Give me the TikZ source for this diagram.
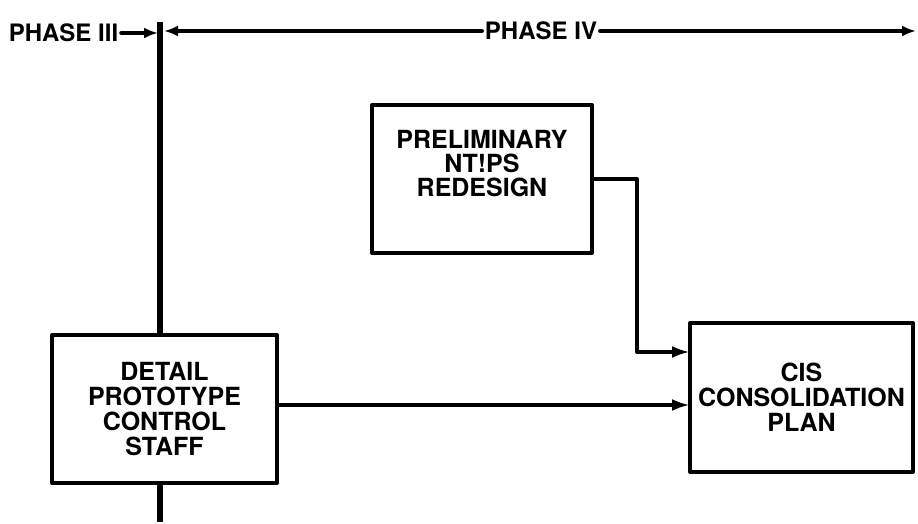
\documentclass[tikz,border=0pt]{standalone}
\usepackage{fontspec}
\setmainfont{TeX Gyre Heros}
\usetikzlibrary{arrows.meta,positioning}
\tikzset{
    every picture/.style={line cap=round,line join=round},
    stagebox/.style={draw=black,line width=2pt,inner sep=2pt,outer sep=0pt,
      align=center,font=\bfseries\fontsize{12.5}{12.5}\selectfont},
    phaselabel/.style={inner sep=1.5pt,font=\bfseries\fontsize{12}{12}\selectfont},
    flowarrow/.style={-{Latex[length=9pt,width=6pt]},line width=2pt},
    phasearrow/.style={-{Latex[length=7pt,width=5.5pt]},line width=2.4pt},
    divider/.style={line width=3.4pt,line cap=butt}
}

\begin{document}
\begin{tikzpicture}[x=0.5pt,y=-0.5pt]
  \useasboundingbox (0,0) rectangle (918,524);
  % boxes
  \node[stagebox,minimum width=112.5pt,minimum height=74pt] (detail) at (164.5,409)
    {DETAIL\\PROTOTYPE\\CONTROL\\STAFF};
  \node[stagebox,minimum width=110pt,minimum height=74pt,
    font=\bfseries\fontsize{12.5}{12}\selectfont] (prelim) at (482,179)
    {PRELIMINARY\\NT!PS\\REDESIGN\\[4pt]\mbox{}};
  \node[stagebox,minimum width=111.5pt,minimum height=74.5pt] (cis) at (801.5,397.5)
    {CIS\\CONSOLIDATION\\PLAN};
  % phase header
  \node[phaselabel] (p3) at (63.5,33) {PHASE III};
  \node[phaselabel] (p4) at (541,31) {PHASE IV};
  \coordinate (vtop) at (160,22);
  \coordinate (vbot) at (160,522);
  \coordinate (rend) at (916,31);
  \draw[divider] (vtop) -- (vtop |- detail.north);
  \draw[divider] (detail.south -| vbot) -- (vbot);
  \draw[phasearrow] (p3.east) -- ([xshift=-1pt]p3.east -| vtop);
  \draw[phasearrow] (p4.west) -- ([xshift=2pt]p4.west -| vtop);
  \draw[phasearrow] (p4.east) -- (rend);
  % flows
  \coordinate (turn) at (637,352);
  \draw[flowarrow] (prelim.east) -| (turn) -- (turn -| cis.west);
  \draw[flowarrow] ([yshift=2pt]detail.east) -- ([yshift=2pt]detail.east -| cis.west);
\end{tikzpicture}
\end{document}
